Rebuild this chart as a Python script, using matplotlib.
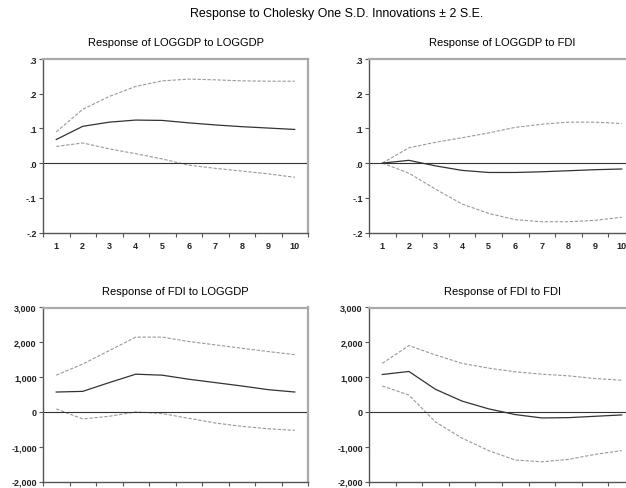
import matplotlib.pyplot as plt

plt.rcParams['font.family'] = ['Liberation Sans', 'DejaVu Sans']

periods = [1, 2, 3, 4, 5, 6, 7, 8, 9, 10]

# Response of LOGGDP to LOGGDP
gdp_gdp = [0.068, 0.106, 0.118, 0.124, 0.123, 0.116, 0.110, 0.105, 0.101, 0.097]
gdp_gdp_hi = [0.090, 0.155, 0.192, 0.221, 0.237, 0.242, 0.240, 0.237, 0.236, 0.236]
gdp_gdp_lo = [0.048, 0.058, 0.041, 0.027, 0.012, -0.006, -0.015, -0.023, -0.031, -0.041]

# Response of LOGGDP to FDI
gdp_fdi = [0.0, 0.008, -0.008, -0.021, -0.027, -0.027, -0.025, -0.022, -0.019, -0.017]
gdp_fdi_hi = [0.0, 0.044, 0.060, 0.073, 0.087, 0.103, 0.112, 0.118, 0.118, 0.114]
gdp_fdi_lo = [0.0, -0.029, -0.075, -0.118, -0.145, -0.163, -0.169, -0.169, -0.165, -0.156]

# Response of FDI to LOGGDP
fdi_gdp = [571, 590, 842, 1084, 1055, 939, 842, 745, 639, 571]
fdi_gdp_hi = [1055, 1375, 1762, 2149, 2149, 2023, 1926, 1830, 1733, 1646]
fdi_gdp_lo = [87, -203, -126, 0, -48, -184, -319, -416, -484, -532]

# Response of FDI to FDI
fdi_fdi = [1075, 1162, 649, 310, 87, -77, -174, -165, -126, -87]
fdi_fdi_hi = [1394, 1907, 1636, 1394, 1258, 1152, 1084, 1036, 958, 910]
fdi_fdi_lo = [745, 484, -290, -755, -1113, -1384, -1433, -1365, -1220, -1113]

gdp_ticks = [-0.2, -0.1, 0.0, 0.1, 0.2, 0.3]
gdp_labels = ['-.2', '-.1', '.0', '.1', '.2', '.3']
fdi_ticks = [-2000, -1000, 0, 1000, 2000, 3000]
fdi_labels = ['-2,000', '-1,000', '0', '1,000', '2,000', '3,000']

# (title, mid, upper, lower, yticks, ylabels, rect, show x labels)
panels = [
    ('Response of LOGGDP to LOGGDP', gdp_gdp, gdp_gdp_hi, gdp_gdp_lo, gdp_ticks, gdp_labels,
     [43 / 626, 1 - 233.5 / 489, 265 / 626, 173.5 / 489], True),
    ('Response of LOGGDP to FDI', gdp_fdi, gdp_fdi_hi, gdp_fdi_lo, gdp_ticks, gdp_labels,
     [369 / 626, 1 - 233.5 / 489, 266 / 626, 173.5 / 489], True),
    ('Response of FDI to LOGGDP', fdi_gdp, fdi_gdp_hi, fdi_gdp_lo, fdi_ticks, fdi_labels,
     [43 / 626, 1 - 482.5 / 489, 265 / 626, 174 / 489], False),
    ('Response of FDI to FDI', fdi_fdi, fdi_fdi_hi, fdi_fdi_lo, fdi_ticks, fdi_labels,
     [369 / 626, 1 - 482.5 / 489, 266 / 626, 174 / 489], False),
]

fig = plt.figure(figsize=(6.26, 4.89), dpi=100)
fig.text(337 / 626, 1 - 14.5 / 489, 'Response to Cholesky One S.D. Innovations \u00b1 2 S.E.',
         ha='center', va='center', fontsize=8.9)

for title, mid, hi, lo, yt, yl, rect, xlab in panels:
    ax = fig.add_axes(rect)
    ax.plot(periods, hi, color='#999999', lw=0.8, ls=(0, (3, 1.5)))
    ax.plot(periods, lo, color='#999999', lw=0.8, ls=(0, (3, 1.5)))
    ax.plot(periods, mid, color='#333333', lw=0.9)
    ax.axhline(0, color='#333333', lw=0.8)
    ax.set_xlim(0.5, 10.5)
    ax.set_ylim(yt[0], yt[-1])
    ax.set_yticks(yt)
    ax.set_yticklabels(yl)
    ax.set_xticks(periods)
    ax.set_xticklabels([str(p) for p in periods] if xlab else [])
    ax.set_xticks([p + 0.5 for p in [0] + periods], minor=True)
    ax.tick_params(axis='x', which='major', length=0, pad=6, labelsize=6.5)
    ax.tick_params(axis='x', which='minor', length=3, width=0.8, color='#555555')
    ax.tick_params(axis='y', length=3, width=0.8, color='#555555', pad=1.5, labelsize=6.5)
    for lab in ax.get_yticklabels() + ax.get_xticklabels():
        lab.set_fontweight('bold')
        lab.set_color('#222222')
    ax.spines['left'].set_color('#555555')
    ax.spines['bottom'].set_color('#555555')
    ax.spines['top'].set_color('#aaaaaa')
    ax.spines['right'].set_color('#aaaaaa')
    for s in ax.spines.values():
        s.set_linewidth(1.0)
    ax.spines['top'].set_linewidth(1.6)
    ax.spines['right'].set_linewidth(1.6)
    ax.set_title(title, fontsize=8, pad=10)

fig.savefig('out.png', dpi=100)
